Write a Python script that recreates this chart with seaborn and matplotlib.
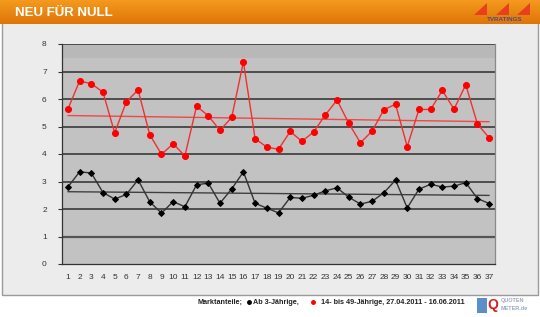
import numpy as np
import pandas as pd
import matplotlib
matplotlib.use("Agg")
import matplotlib.pyplot as plt
from matplotlib.patches import Rectangle, Polygon
from matplotlib.colors import LinearSegmentedColormap
import seaborn as sns

episodes = list(range(1, 38))
ab3 = [2.80, 3.35, 3.31, 2.60, 2.36, 2.53, 3.06, 2.26, 1.85, 2.27, 2.08, 2.88, 2.94,
       2.21, 2.73, 3.35, 2.21, 2.03, 1.86, 2.42, 2.39, 2.50, 2.66, 2.77, 2.43, 2.18,
       2.28, 2.59, 3.05, 2.04, 2.72, 2.90, 2.80, 2.83, 2.96, 2.38, 2.20]
age14_49 = [5.63, 6.65, 6.56, 6.25, 4.77, 5.90, 6.33, 4.70, 3.99, 4.37, 3.93, 5.74, 5.39,
            4.86, 5.33, 7.35, 4.56, 4.25, 4.17, 4.82, 4.46, 4.80, 5.42, 5.96, 5.12, 4.41,
            4.83, 5.61, 5.81, 4.27, 5.62, 5.62, 6.31, 5.63, 6.52, 5.09, 4.59]
yticks = list(range(0, 9))
title = "NEU FÜR NULL"
legend_text = "14- bis 49-Jährige, 27.04.2011 - 16.06.2011"

df = pd.DataFrame({"Folge": episodes, "ab3": ab3, "z": age14_49})

sns.set_style("white")
plt.rcParams['font.family'] = ['Liberation Sans', 'DejaVu Sans']

fig = plt.figure(figsize=(5.4, 3.17), dpi=100)
fig.patch.set_facecolor("white")

W, H = 540, 317
def fx(px): return px / W
def fy(py): return 1 - py / H

# background axes in figure pixel coordinates
bg = fig.add_axes([0, 0, 1, 1], zorder=-5)
bg.set_axis_off()
bg.add_patch(Rectangle((1.5, 22), 536, 273, facecolor="#ECECEC",
                       edgecolor="#9A9A9A", lw=1))
cm = LinearSegmentedColormap.from_list("o", ["#F59A1E", "#DE7508"])
grad = np.linspace(0, 1, 50).reshape(-1, 1)
bg.imshow(grad, aspect="auto", cmap=cm, extent=[0, W, 24, 0], zorder=2)
bg.set_xlim(0, W); bg.set_ylim(H, 0)
bg.text(15, 13, title, color="white", fontsize=9.5, fontweight="bold",
        va="center", ha="left", zorder=3)
# TV ratings logo (simple)
for x0 in [487, 509, 530]:
    bg.add_patch(Polygon([[x0 - 13, 15], [x0, 15], [x0, 3]], closed=True,
                         facecolor="#E8401A", edgecolor="none", zorder=3))
bg.text(505, 19.5, "TVRATINGS", color="#4A4A8A", fontsize=4.5, fontweight="bold",
        ha="center", va="center", zorder=3)

# footer legend
fs = 5.2
bg.text(198, 302, "Marktanteile;", fontsize=fs, fontweight="bold",
        color="#222222", va="center", ha="left")
bg.plot([249], [302], marker="o", ms=2.5, color="black", ls="none")
bg.text(253, 302, "Ab 3-Jährige,", fontsize=fs, fontweight="bold",
        color="#222222", va="center", ha="left")
bg.plot([313], [302], marker="o", ms=2.5, color="red", ls="none")
bg.text(321, 302, legend_text, fontsize=fs, fontweight="bold",
        color="#222222", va="center", ha="left")
# quotenmeter logo (simple)
bg.add_patch(Rectangle((477, 298), 10, 15, facecolor="#5B8FC9", edgecolor="none"))
bg.text(493, 305, "Q", fontsize=10, fontweight="bold", color="#D42020",
        va="center", ha="center")
bg.text(501, 300.5, "QUOTEN", fontsize=4, fontweight="bold", color="#9AAAC0",
        va="center", ha="left")
bg.text(501, 308, "METER.de", fontsize=4, fontweight="bold", color="#9AAAC0",
        va="center", ha="left")

ax = fig.add_axes([fx(62), fy(264), fx(495) - fx(62), fy(44) - fy(264)], zorder=2)
ax.set_facecolor("#C2C2C2")
ax.axhspan(7.5, 8, color="#B8B8B8", zorder=0.5, lw=0)

for v in yticks[1:]:
    ax.axhline(v, color="#2E2E2E" if v != 1 else "#555555",
               lw=1.1 if v != 1 else 1.6, zorder=1)

sns.lineplot(data=df, x="Folge", y="z", ax=ax, color="#F03030", lw=1.0,
             marker="o", markersize=4.3, markerfacecolor="#FF0000",
             markeredgecolor="#FF0000", zorder=4)
sns.lineplot(data=df, x="Folge", y="ab3", ax=ax, color="#333333", lw=1.0,
             marker="D", markersize=3.0, markerfacecolor="#000000",
             markeredgecolor="#000000", zorder=4)

xs = np.array(episodes, dtype=float)
for ys, c in [(age14_49, "#EE4848"), (ab3, "#404040")]:
    k, d = np.polyfit(xs, ys, 1)
    ax.plot([xs[0], xs[-1]], [k * xs[0] + d, k * xs[-1] + d], color=c, lw=1.0, zorder=3)

ax.set_xlim(0.5, 37.5)
ax.set_ylim(0, 8)
ax.set_yticks(yticks)
ax.set_yticklabels([str(t) for t in yticks], fontsize=6, color="#333333")
ax.set_xticks(episodes)
ax.set_xticklabels([str(e) for e in episodes], fontsize=6, color="#333333")
ax.set_xticks(np.arange(0.5, 38, 1), minor=True)
ax.tick_params(axis="x", which="major", length=0, pad=7)
ax.tick_params(axis="x", which="minor", length=3, direction="out", color="#333333", width=0.8)
ax.tick_params(axis="y", which="major", length=3, direction="out", color="#333333",
               width=0.8, pad=8, left=True)
ax.set_xlabel(""); ax.set_ylabel("")
ax.spines["top"].set_visible(False)
ax.spines["right"].set_color("#8A8A8A")
ax.spines["left"].set_color("#333333")
ax.spines["bottom"].set_color("#333333")
for s in ax.spines.values():
    s.set_linewidth(0.9)

fig.savefig("out.png", dpi=100)
